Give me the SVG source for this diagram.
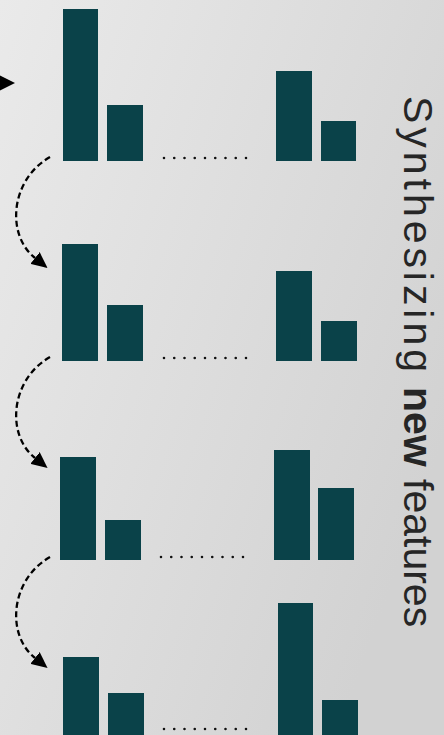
<svg xmlns="http://www.w3.org/2000/svg" width="444" height="735" viewBox="0 0 444 735">
<defs>
<linearGradient id="bg" x1="0" y1="0" x2="1" y2="0.6">
<stop offset="0" stop-color="#eaeaea"/>
<stop offset="1" stop-color="#d2d2d2"/>
</linearGradient>
<marker id="ah" markerUnits="userSpaceOnUse" viewBox="0 0 16 15" refX="0" refY="7.5" markerWidth="16" markerHeight="15" orient="auto">
<path d="M0,0 L16,7.5 L0,15 z" fill="#000"/>
</marker>
<style>
.bar{fill:#0a4249}
.dots{stroke:#111;stroke-width:2.6;stroke-linecap:round;stroke-dasharray:0 10.25;fill:none}
.cur{stroke:#000;stroke-width:2.3;stroke-dasharray:6 3.5;fill:none}
.lbl{font-family:"Liberation Sans","DejaVu Sans",sans-serif;font-size:41px;fill:#262626}
</style>
</defs>
<rect width="444" height="735" fill="url(#bg)"/>
<g id="row1">
<rect class="bar" x="63" y="9" width="35" height="152"/>
<rect class="bar" x="107" y="105" width="36" height="56"/>
<line class="dots" x1="164" y1="158" x2="247" y2="158"/>
<rect class="bar" x="276" y="71" width="36" height="90"/>
<rect class="bar" x="321" y="121" width="35" height="40"/>
</g>
<g id="row2">
<rect class="bar" x="62" y="244" width="36" height="117"/>
<rect class="bar" x="107" y="305" width="36" height="56"/>
<line class="dots" x1="164" y1="358" x2="247" y2="358"/>
<rect class="bar" x="276" y="271" width="36" height="90"/>
<rect class="bar" x="321" y="321" width="36" height="40"/>
</g>
<g id="row3">
<rect class="bar" x="60" y="457" width="36" height="103"/>
<rect class="bar" x="105" y="520" width="36" height="40"/>
<line class="dots" x1="161" y1="557" x2="244" y2="557"/>
<rect class="bar" x="274" y="450" width="36" height="110"/>
<rect class="bar" x="318" y="488" width="36" height="72"/>
</g>
<g id="row4">
<rect class="bar" x="63" y="657" width="36" height="78"/>
<rect class="bar" x="108" y="693" width="36" height="42"/>
<line class="dots" x1="164" y1="729" x2="247" y2="729"/>
<rect class="bar" x="278" y="603" width="35" height="132"/>
<rect class="bar" x="322" y="700" width="36" height="35"/>
</g>
<g id="connectors">
<polygon points="-3,74 15,83 -3,92" fill="#000"/>
<path class="cur" d="M50,157 C10,180 6,235 35,258" marker-end="url(#ah)"/>
<path class="cur" d="M50,357 C10,380 6,435 35,458" marker-end="url(#ah)"/>
<path class="cur" d="M50,557 C10,580 6,635 35,658" marker-end="url(#ah)"/>
</g>
<g id="label">
<text class="lbl" transform="translate(404,96) rotate(90)"><tspan x="0" textLength="276" lengthAdjust="spacing">Synthesizing</tspan> <tspan x="291" font-weight="bold">new</tspan> <tspan x="383">features</tspan></text>
</g>
</svg>
